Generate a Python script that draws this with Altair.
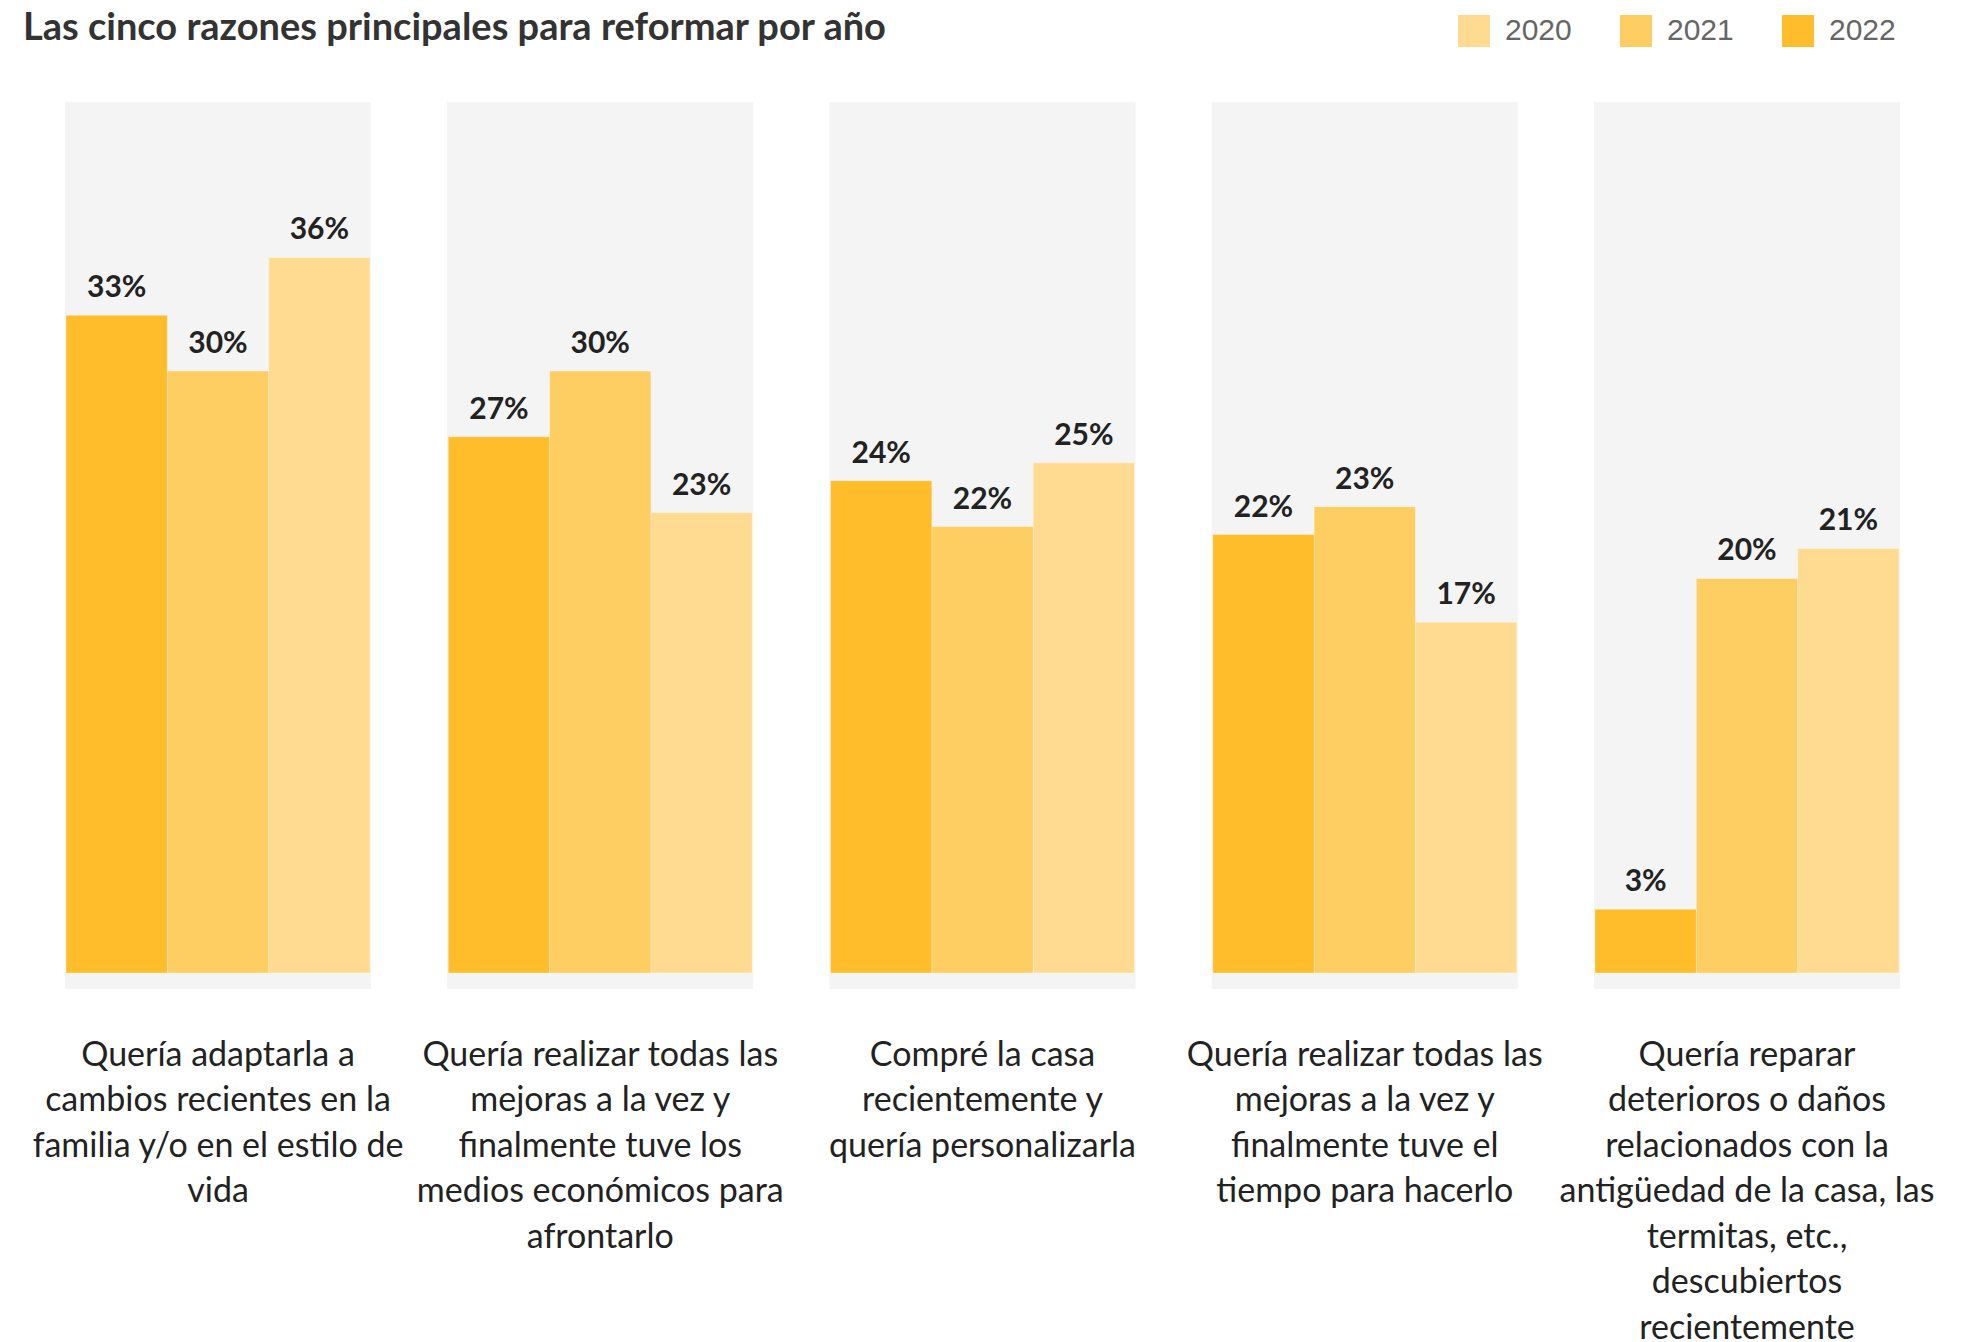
import altair as alt
import pandas as pd

TITLE = "Las cinco razones principales para reformar por año"
reasons = [
    "Quería adaptarla a|cambios recientes en la|familia y/o en el estilo de|vida",
    "Quería realizar todas las|mejoras a la vez y|finalmente tuve los|medios económicos para|afrontarlo",
    "Compré la casa|recientemente y|quería personalizarla",
    "Quería realizar todas las|mejoras a la vez y|finalmente tuve el|tiempo para hacerlo",
    "Quería reparar|deterioros o daños|relacionados con la|antigüedad de la casa, las|termitas, etc.,|descubiertos|recientemente",
]
years = ["2020", "2021", "2022"]
# bar heights as drawn (percent)
v2020 = [35.9, 23.1, 25.6, 17.6, 21.3]
v2021 = [30.2, 30.2, 22.4, 23.4, 19.8]
v2022 = [33.0, 26.9, 24.7, 22.0, 3.2]
# value labels as printed
l2020 = ["36%", "23%", "25%", "17%", "21%"]
l2021 = ["30%", "30%", "22%", "23%", "20%"]
l2022 = ["33%", "27%", "24%", "22%", "3%"]
colors = ["#FEDB90", "#FFCE62", "#FFBC2B"]

rows = []
for yr, vals, labs in zip(years, [v2020, v2021, v2022], [l2020, l2021, l2022]):
    for r, v, lab in zip(reasons, vals, labs):
        rows.append({"reason": r, "year": yr, "value": v, "label": lab})
df = pd.DataFrame(rows)
panels = pd.DataFrame({"reason": reasons})

Y_MIN, Y_MAX = -0.8, 43.7
yscale = alt.Scale(domain=[Y_MIN, Y_MAX], nice=False, zero=False)
W, H = 1853, 887

xbars = alt.X(
    "reason:N", sort=reasons, title=None,
    scale=alt.Scale(range=[8, W - 12], paddingInner=0.2047, paddingOuter=0),
    axis=alt.Axis(
        labelExpr="split(datum.value, '|')",
        labelFont="Lato", labelFontSize=34, labelLineHeight=45.5,
        labelColor="#222222", labelPadding=49, labelLimit=0, labelAngle=0,
        labelBaseline="top", domain=False, ticks=False, grid=False,
    ),
)
xoff = alt.XOffset("year:N", sort=["2022", "2021", "2020"],
                   scale=alt.Scale(paddingInner=0, paddingOuter=0))

panel_layer = alt.Chart(panels).mark_bar(
    color="#F4F4F4", width=alt.RelativeBandSize(1.0066)
).encode(
    x=xbars,
    y=alt.YDatum(Y_MIN, scale=yscale, axis=None),
    y2=alt.Y2Datum(Y_MAX),
)

bars = alt.Chart(df).mark_bar(stroke="white", strokeOpacity=0.35, strokeWidth=1).encode(
    x=xbars,
    xOffset=xoff,
    y=alt.Y("value:Q", scale=yscale, axis=None),
    color=alt.Color(
        "year:N",
        scale=alt.Scale(domain=years, range=colors),
        legend=alt.Legend(
            title=None, orient="none", legendX=1400, legendY=-87,
            direction="horizontal", symbolType="square", symbolSize=1024,
            symbolStrokeWidth=0, symbolOpacity=1, labelFont="Liberation Sans",
            labelFontSize=30, labelColor="#666666", labelOffset=15,
            columnPadding=48, padding=0,
        ),
    ),
)

texts = alt.Chart(df).mark_text(
    dy=-18, baseline="alphabetic", font="Lato", fontWeight="bold",
    fontSize=30, color="#222222",
).encode(
    x=xbars,
    xOffset=xoff,
    y=alt.Y("value:Q", scale=yscale, axis=None),
    text="label:N",
)

chart = alt.layer(panel_layer, bars, texts).properties(
    width=W, height=H,
    autosize=alt.AutoSizeParams(type="none"),
    padding={"left": 50, "top": 94, "right": 40, "bottom": 420},
    title=alt.TitleParams(
        TITLE, anchor="start", frame="group", dx=-35, offset=-33,
        font="Lato", fontWeight="bold", fontSize=38, color="#333333",
    ),
).configure_view(stroke=None)

chart.save("out.html", embed_options={"renderer": "svg", "actions": False})
